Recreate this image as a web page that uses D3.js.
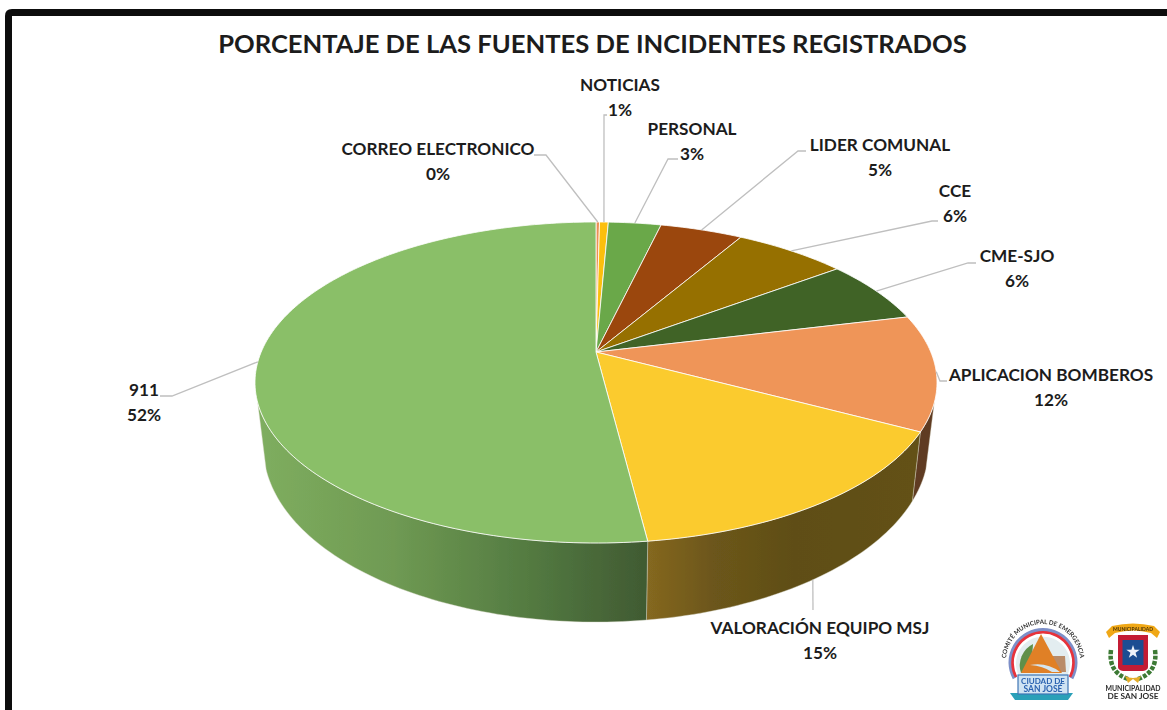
<!DOCTYPE html>
<html><head><meta charset="utf-8">
<script src="https://cdnjs.cloudflare.com/ajax/libs/d3/7.8.5/d3.min.js"></script>
<style>html,body{margin:0;padding:0;background:#fff;overflow:hidden}svg{display:block}text{font-family:Lato,"Open Sans",sans-serif;font-weight:700;fill:#1c1c1c}</style>
</head><body><svg id="c" width="1167" height="710"></svg>
<script>
const categories=["CORREO ELECTRONICO","NOTICIAS","PERSONAL","LIDER COMUNAL","CCE","CME-SJO","APLICACION BOMBEROS","VALORACIÓN EQUIPO MSJ","911"];
const values=[0.2,0.5,3.0,4.7,6.4,6.4,11.6,15.2,52.0];
const percentLabels=["0%","1%","3%","5%","6%","6%","12%","15%","52%"];
const colors=["#ed8f55","#fcbf0e","#6aa84a","#9b470d","#967000","#3f6428","#ef9559","#fbcb2e","#8abf68"];
const chartTitle="PORCENTAJE DE LAS FUENTES DE INCIDENTES REGISTRADOS";

// label layout: text centre, leader elbow and tail, per category
const labelX=[438,620,692,880,955,1017,1051,820,144];
const labelY=[149,85,129,145,191,256,375,628,390];
const elbowX=[546,604,668,798,932,968,940,813,172];
const elbowY=[155,115,159,151,221,263,381,610,396];
const tailX=[534,607,678,806,938,976,947,813,160];

const svg=d3.select("#c");
const defs=svg.append("defs");
const blur=defs.append("filter").attr("id","soft").attr("x","-5%").attr("y","-5%").attr("width","110%").attr("height","110%");
blur.append("feGaussianBlur").attr("stdDeviation",0.45);
const blur2=defs.append("filter").attr("id","logoBlur");
blur2.append("feGaussianBlur").attr("stdDeviation",0.55);

// frame
svg.append("path").attr("d","M8.5,714V16Q8.5,12.5 12,12.5H1172").attr("fill","none").attr("stroke","#0d0d0d").attr("stroke-width",7);

svg.append("text").attr("x",592.5).attr("y",52.5).attr("text-anchor","middle").attr("font-size",25.6).text(chartTitle);

// angles via d3.pie
const pie=d3.pie().sort(null).value(d=>d).startAngle(0).endAngle(2*Math.PI);
const arcs=pie(values);

// perspective projections of the top and bottom discs
const cx=596;
const top_={a:334.8,b:154.7,k:0.19,y0:352};
const bot_={a:326.5,b:168.5,k:0.19,y0:414};
function proj(p,t,r=1){const u=r*Math.sin(t),v=-r*Math.cos(t),w=1-p.k*v;return [cx+p.a*u/w,p.y0+p.b*v/w];}
const line=d3.line();
function samples(a,b){const n=Math.max(2,Math.ceil(Math.abs(b-a)/0.02));return d3.range(n+1).map(i=>a+(b-a)*i/n);}

// side walls: visible part of the rim
const wallFrom=Math.PI*0.6,wallTo=Math.PI*1.4;
const wallFill={6:"#5f3a20",7:"url(#wallY)",8:"url(#wallG)"};
const gy=defs.append("linearGradient").attr("id","wallY").attr("gradientUnits","userSpaceOnUse").attr("x1",646).attr("x2",915).attr("y1",0).attr("y2",0);
[[0,"#856820"],[0.25,"#6c561a"],[0.55,"#5f4e17"],[1,"#635117"]].forEach(s=>gy.append("stop").attr("offset",s[0]).attr("stop-color",s[1]));
const gg=defs.append("linearGradient").attr("id","wallG").attr("gradientUnits","userSpaceOnUse").attr("x1",256).attr("x2",648).attr("y1",0).attr("y2",0);
[[0,"#7fae5f"],[0.35,"#6f9a53"],[0.7,"#537a41"],[1,"#405a32"]].forEach(s=>gg.append("stop").attr("offset",s[0]).attr("stop-color",s[1]));

const pieG=svg.append("g").attr("filter","url(#soft)");
[6,7,8].forEach(i=>{
  const d=arcs[i];
  const a=Math.max(d.startAngle,wallFrom),b=Math.min(d.endAngle,wallTo);
  const ts=samples(a,b);
  const pts=ts.map(t=>proj(top_,t)).concat(ts.slice().reverse().map(t=>proj(bot_,t)));
  pieG.append("path").attr("d",line(pts)+"Z").attr("fill",wallFill[i]).attr("stroke","#d9d9c8").attr("stroke-width",0.6).attr("stroke-opacity",0.7);
});

// top face
const apex=proj(top_,0,0);
arcs.forEach((d,i)=>{
  const pts=[apex].concat(samples(d.startAngle,d.endAngle).map(t=>proj(top_,t)));
  pieG.append("path").attr("d",line(pts)+"Z").attr("fill",colors[i]).attr("stroke","#fff").attr("stroke-width",1).attr("stroke-opacity",0.8).attr("stroke-linejoin","round");
});

// leaders
const leaders=svg.append("g");
arcs.forEach((d,i)=>{
  const mid=(d.startAngle+d.endAngle)/2;
  const p=i===7?proj(bot_,Math.PI*0.811):proj(top_,mid);
  const pts=[p,[elbowX[i],elbowY[i]],[tailX[i],elbowY[i]]];
  leaders.append("path").attr("d",line(pts)).attr("fill","none").attr("stroke","#bfbfbf").attr("stroke-width",1.3);
});

// labels
const labels=svg.append("g").attr("font-size",17.2).attr("text-anchor","middle");
categories.forEach((c,i)=>{
  labels.append("text").attr("x",labelX[i]).attr("y",labelY[i]+6).text(c);
  labels.append("text").attr("x",labelX[i]).attr("y",labelY[i]+31).text(percentLabels[i]);
});

// logos
const L=svg.append("g").attr("filter","url(#logoBlur)");
// civil protection emblem
const e=L.append("g").attr("transform","translate(1043,664)");
e.append("path").attr("d","M-28,14A32,32 0 1 1 28,14").attr("fill","none").attr("stroke","#7d8fc8").attr("stroke-width",5);
e.append("path").attr("d","M-27,13A30.5,30.5 0 1 1 27,13").attr("fill","none").attr("stroke","#e8323a").attr("stroke-width",2.6);
e.append("path").attr("d","M-24,12A27,27 0 1 1 24,12Z").attr("fill","#e3edf0");
e.append("path").attr("d","M-22,9A24,24 0 0 1 -10,-20L-12,9Z").attr("fill","#5f8f4a");
e.append("path").attr("d","M8,-8L22,-8L23,8H12Z").attr("fill","#b98b68");
e.append("path").attr("d","M-2,-30L19,9H-22Z").attr("fill","#e08028");
e.append("path").attr("d","M-13,1Q4,-2 17,8L9,8Q0,2 -13,1Z").attr("fill","#d5e5ef");
e.append("path").attr("d","M-33,29L30,29L25,36L-28,36Z").attr("fill","#2aa0b8");
e.append("rect").attr("x",-25).attr("y",11).attr("width",50).attr("height",19).attr("fill","#cfe3f3").attr("stroke","#3f76b5").attr("stroke-width",1.2);
e.append("text").attr("y",19.5).attr("text-anchor","middle").attr("font-size",8).style("fill","#2a62b0").text("CIUDAD DE");
e.append("text").attr("y",28).attr("text-anchor","middle").attr("font-size",8.5).style("fill","#2a62b0").text("SAN JOSÉ");
defs.append("path").attr("id","ringPath").attr("d","M-35,9A37,37 0 1 1 35,9");
e.append("text").attr("font-size",6.2).style("fill","#333").append("textPath").attr("href","#ringPath").attr("startOffset","50%").attr("text-anchor","middle").text("COMITÉ MUNICIPAL DE EMERGENCIA");
// municipal arms
const m=L.append("g").attr("transform","translate(1133,652)");
m.append("path").attr("d","M-27,-20L-21,-26Q0,-31 21,-26L27,-20L24,-14L18,-19Q0,-24 -18,-19L-24,-14Z").attr("fill","#f0a818");
m.append("text").attr("y",-21).attr("text-anchor","middle").attr("font-size",5).style("fill","#4a3200").text("MUNICIPALIDAD");
m.append("path").attr("d","M-15,-17H15V15Q15,18 10,19H-10Q-15,18 -15,15Z").attr("fill","#c31f36");
m.append("rect").attr("x",-10.5).attr("y",-12).attr("width",21).attr("height",25).attr("fill","#1d4e92");
m.append("path").attr("d",d3.symbol().type(d3.symbolStar).size(55)()).attr("fill","#eef2fa");
m.append("path").attr("d","M-22,-2Q-25,20 -5,27").attr("fill","none").attr("stroke","#3c7a34").attr("stroke-width",4.5).attr("stroke-dasharray","4 1.5");
m.append("path").attr("d","M22,-2Q25,20 5,27").attr("fill","none").attr("stroke","#3c7a34").attr("stroke-width",4.5).attr("stroke-dasharray","4 1.5");
m.append("path").attr("d","M-8,24Q0,28 8,24L5,31L0,27L-5,31Z").attr("fill","#e5ad2c");
m.append("text").attr("y",38.5).attr("text-anchor","middle").attr("font-size",7.6).attr("textLength",55).attr("lengthAdjust","spacingAndGlyphs").style("fill","#2b2b2b").text("MUNICIPALIDAD");
m.append("text").attr("y",47).attr("text-anchor","middle").attr("font-size",7.6).attr("textLength",51).attr("lengthAdjust","spacingAndGlyphs").style("fill","#2b2b2b").text("DE SAN JOSE");
</script></body></html>
